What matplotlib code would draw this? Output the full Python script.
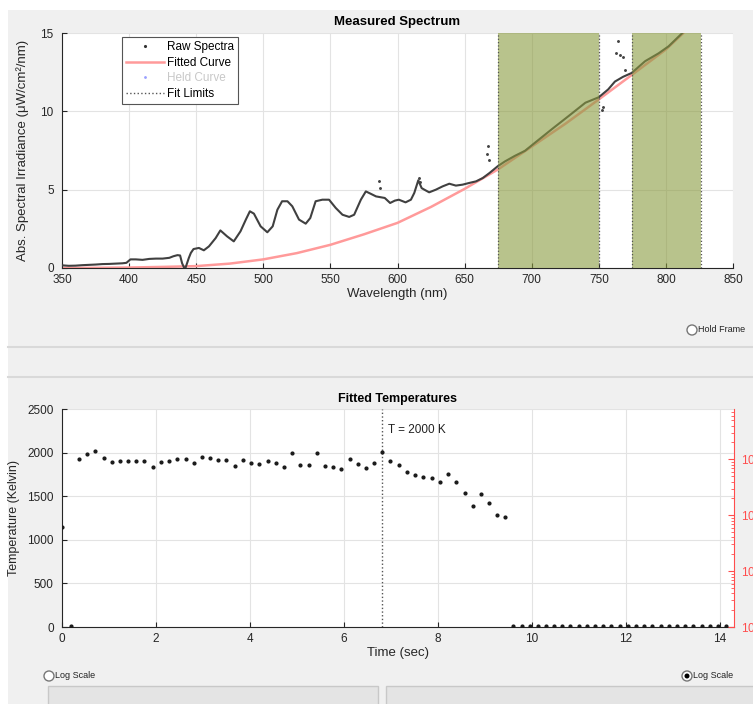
import matplotlib
matplotlib.use("Agg")
import matplotlib.pyplot as plt
from matplotlib.patches import Rectangle, Circle
from matplotlib.lines import Line2D

plt.rcParams['font.family'] = ['Liberation Sans', 'DejaVu Sans']

# ---------------- data: measured spectrum ----------------
raw_nm = [350, 355, 360, 365, 370, 375, 380, 385, 390, 395, 398, 401, 405, 410, 415, 420, 425, 430,
          433, 436, 438, 439.5, 441, 442, 444.5, 446, 448, 452, 455.7, 459.5, 464.5, 468, 473, 478,
          483, 487, 490, 493, 498, 503, 507, 510.5, 514, 518, 521.6, 526.6, 531.6, 535, 539, 544,
          549, 554, 559, 564, 567.7, 572.7, 576.4, 580, 584, 590.5, 594.5, 598, 601, 606, 610,
          612.5, 615.5, 618, 620, 623.6, 628.6, 633.6, 638.6, 643.5, 648.5, 653.5, 658.5, 663.5,
          668.5, 674.6, 680, 687.5, 695, 702.5, 715, 727.5, 740, 750, 757, 762, 768, 774.5, 784.5,
          794.5, 802, 813]
raw_val = [0.17, 0.14, 0.15, 0.18, 0.20, 0.22, 0.25, 0.26, 0.28, 0.30, 0.33, 0.55, 0.55, 0.52, 0.58,
           0.60, 0.60, 0.65, 0.75, 0.82, 0.80, 0.30, 0.02, 0.0, 0.64, 0.96, 1.21, 1.28, 1.13, 1.38,
           1.91, 2.40, 2.02, 1.70, 2.34, 3.09, 3.62, 3.47, 2.66, 2.28, 2.66, 3.72, 4.26, 4.26, 3.94,
           3.09, 2.83, 3.19, 4.26, 4.36, 4.36, 3.83, 3.40, 3.26, 3.40, 4.36, 4.89, 4.74, 4.57, 4.47,
           4.15, 4.30, 4.36, 4.19, 4.36, 4.79, 5.60, 5.10, 5.00, 4.83, 5.00, 5.21, 5.38, 5.26, 5.32,
           5.43, 5.53, 5.74, 6.06, 6.49, 6.80, 7.16, 7.48, 8.00, 8.86, 9.70, 10.55, 10.90, 11.40,
           11.90, 12.20, 12.45, 13.20, 13.70, 14.15, 15.06]
outlier_nm = [586, 587, 615.7, 616.5, 667.5, 667, 668, 752.5, 753, 763, 764.6, 766, 768, 769.6]
outlier_val = [5.53, 5.10, 5.74, 5.50, 7.80, 7.30, 6.90, 10.1, 10.3, 13.7, 14.47, 13.6, 13.5, 12.67]

fit_nm = [350, 375, 400, 425, 450, 475, 500, 525, 550, 575, 600, 625, 650, 675, 700, 725, 750,
          775, 800, 813]
fit_val = [0.0, 0.01, 0.03, 0.07, 0.12, 0.28, 0.55, 0.95, 1.48, 2.15, 2.88, 3.90, 5.05, 6.30, 7.75,
           9.20, 10.76, 12.35, 13.95, 15.0]

fit_regions = [(675, 750), (775, 826)]

# ---------------- data: fitted temperatures ----------------
time_s = [0.0, 0.2, 0.355, 0.54, 0.71, 0.89, 1.06, 1.23, 1.40, 1.58, 1.75, 1.93, 2.11, 2.28, 2.45,
          2.63, 2.80, 2.98, 3.16, 3.33, 3.50, 3.68, 3.85, 4.02, 4.20, 4.38, 4.55, 4.72, 4.90, 5.07,
          5.25, 5.42, 5.60, 5.77, 5.94, 6.12, 6.29, 6.47, 6.64, 6.82, 6.99, 7.17, 7.34, 7.52, 7.69,
          7.87, 8.04, 8.21, 8.39, 8.57, 8.74, 8.91, 9.09, 9.26, 9.43,
          9.60, 9.78, 9.95, 10.13, 10.30, 10.47, 10.65, 10.82, 11.00, 11.17, 11.34, 11.52, 11.69,
          11.87, 12.04, 12.21, 12.39, 12.56, 12.74, 12.91, 13.08, 13.26, 13.43, 13.61, 13.78,
          13.95, 14.13]
temp_k = [1150, 10, 1929, 1986, 2013, 1936, 1894, 1898, 1905, 1898, 1898, 1840, 1890, 1898, 1925,
          1925, 1879, 1948, 1940, 1913, 1913, 1852, 1917, 1883, 1875, 1905, 1886, 1840, 1998, 1860,
          1860, 1990, 1844, 1833, 1817, 1929, 1867, 1825, 1879, 2005, 1905, 1856, 1775, 1748, 1725,
          1710, 1660, 1756, 1668, 1534, 1388, 1522, 1419, 1281, 1265,
          10, 10, 10, 10, 10, 10, 10, 10, 10, 10, 10, 10, 10, 10, 10, 10, 10, 10, 10, 10, 10, 10,
          10, 10, 10, 10, 10]
marker_time = 6.82
marker_label = "T = 2000 K"

# ---------------- figure ----------------
W, H = 753, 704
fig = plt.figure(figsize=(W / 100, H / 100), dpi=100, facecolor='white')

# background panel (pixel coordinates)
bg = fig.add_axes([0, 0, 1, 1], zorder=-5)
bg.set_xlim(0, W)
bg.set_ylim(H, 0)
bg.axis('off')
bg.add_patch(Rectangle((8, 10), W - 8, H - 10, facecolor='#f0f0f0', edgecolor='none'))
for yy in (347, 377):
    bg.plot([8, W], [yy, yy], color='#d9d9d9', lw=1.5)
# bottom boxes
bg.add_patch(Rectangle((48, 686), 330, 30, facecolor='#e4e4e4', edgecolor='#c8c8c8', lw=1))
bg.add_patch(Rectangle((386, 686), 380, 30, facecolor='#e4e4e4', edgecolor='#c8c8c8', lw=1))
# radio buttons
def radio(x, y, label, on=False):
    bg.add_patch(Circle((x, y), 5, facecolor='white', edgecolor='#777777', lw=1))
    if on:
        bg.add_patch(Circle((x, y), 2.5, facecolor='black', edgecolor='none'))
    bg.text(x + 6, y, label, fontsize=6.5, va='center', ha='left', color='#222222')
radio(692, 330, 'Hold Frame')
radio(49, 676, 'Log Scale')
radio(687, 676, 'Log Scale', on=True)

axis_col = '#262626'
grid_col = '#e3e3e3'

# ---------------- top axes ----------------
ax1 = fig.add_axes([62 / W, 1 - 268 / H, 671 / W, 235 / H])
ax1.set_facecolor('white')
ax1.set_xlim(350, 850)
ax1.set_ylim(0, 15)
ax1.set_xticks(range(350, 851, 50))
ax1.set_yticks([0, 5, 10, 15])
ax1.grid(True, color=grid_col, lw=0.8)
ax1.set_axisbelow(True)
for s in ('top', 'right'):
    ax1.spines[s].set_visible(False)
for s in ('left', 'bottom'):
    ax1.spines[s].set_color(axis_col)
ax1.tick_params(direction='in', length=3.5, labelsize=8.5, colors=axis_col, pad=4)
ax1.tick_params(axis='y', pad=6)

ax1.plot(fit_nm, fit_val, color='#ff9a9a', lw=1.8, zorder=2)
ax1.plot(raw_nm, raw_val, color='#404040', lw=1.5, zorder=3)
ax1.plot(outlier_nm, outlier_val, ls='none', marker='.', ms=2.2, color='#444444', zorder=3)
for a, b in fit_regions:
    ax1.axvspan(a, b, color='#8a9b3f', alpha=0.6, lw=0, zorder=4)
    for xv in (a, b):
        ax1.axvline(xv, color='#555555', ls=':', lw=0.9, zorder=5)

ax1.set_title('Measured Spectrum', fontsize=9.5, fontweight='bold', pad=6, color='black')
ax1.set_xlabel('Wavelength (nm)', fontsize=9.5, labelpad=2, color=axis_col)
ax1.set_ylabel('Abs. Spectral Irradiance (\u03bcW/cm\u00b2/nm)', fontsize=9.5, labelpad=8, color=axis_col)

handles = [
    Line2D([], [], ls='none', marker='.', ms=2.5, color='#333333'),
    Line2D([], [], color='#ff9a9a', lw=1.8),
    Line2D([], [], ls='none', marker='.', ms=2, color='#9aa0ff'),
    Line2D([], [], color='#555555', ls=':', lw=1),
]
leg = ax1.legend(handles, ['Raw Spectra', 'Fitted Curve', 'Held Curve', 'Fit Limits'],
                 loc='upper left', bbox_to_anchor=(0.089, 0.983), borderaxespad=0,
                 fontsize=8.5, handlelength=3.2, handletextpad=0.25, labelspacing=0.3,
                 fancybox=False, framealpha=1, edgecolor='#555555', borderpad=0.35)
leg.get_frame().set_linewidth(0.8)
leg.get_texts()[2].set_color('#c8c8c8')

# ---------------- bottom axes ----------------
ax2 = fig.add_axes([62 / W, 1 - 627 / H, 672 / W, 218 / H])
ax2.set_facecolor('white')
ax2.set_xlim(0, 14.3)
ax2.set_ylim(0, 2500)
ax2.set_xticks(range(0, 15, 2))
ax2.set_yticks(range(0, 2501, 500))
ax2.grid(True, color=grid_col, lw=0.8)
ax2.set_axisbelow(True)
for s in ('top', 'right'):
    ax2.spines[s].set_visible(False)
for s in ('left', 'bottom'):
    ax2.spines[s].set_color(axis_col)
ax2.tick_params(direction='in', length=3.5, labelsize=8.5, colors=axis_col, pad=4)
ax2.tick_params(axis='y', pad=6)
ax2.plot(time_s, temp_k, ls='none', marker='o', ms=2.0, color='#1a1a1a', zorder=3)
ax2.axvline(marker_time, color='#555555', ls=':', lw=1, zorder=2)
ax2.text(marker_time + 0.12, 2260, marker_label, fontsize=8.5, color='#222222', va='center')
ax2.set_title('Fitted Temperatures', fontsize=9, fontweight='bold', pad=5, color='black')
ax2.set_xlabel('Time (sec)', fontsize=9.5, labelpad=2, color=axis_col)
ax2.set_ylabel('Temperature (Kelvin)', fontsize=9, labelpad=5, color=axis_col)

ax3 = ax2.twinx()
ax3.set_yscale('log')
ax3.set_ylim(1, 10 ** 3.9)
red = '#ff4d4d'
for s in ('top', 'left', 'bottom'):
    ax3.spines[s].set_visible(False)
ax3.spines['right'].set_color(red)
ax3.tick_params(axis='y', which='both', direction='in', colors=red, labelsize=8.5, pad=5)
ax3.tick_params(axis='y', which='major', length=4)
ax3.tick_params(axis='y', which='minor', length=2)

fig.savefig('out.png', dpi=100, facecolor=fig.get_facecolor())
